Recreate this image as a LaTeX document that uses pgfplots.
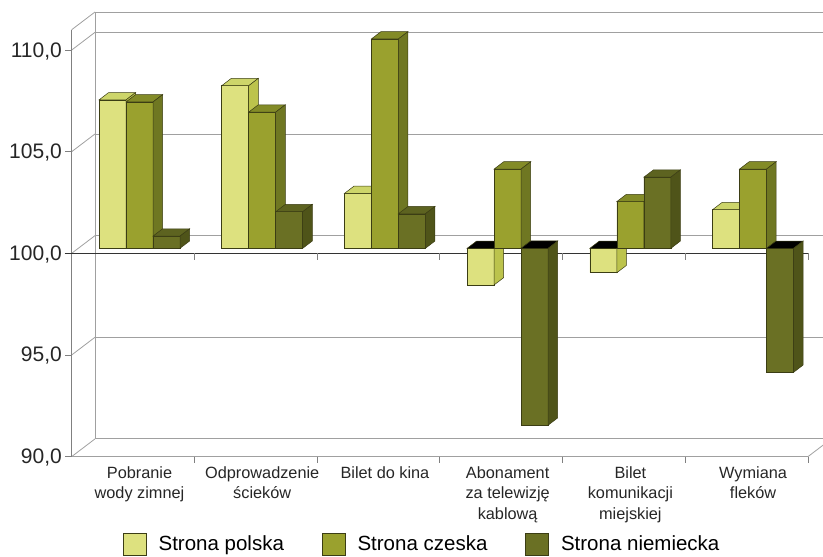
\documentclass[border=0pt]{standalone}
\usepackage{pgfplots}
\pgfplotsset{compat=1.18}
\usepackage{pgfplotstable}
\usepackage{fontspec}
\setmainfont{Liberation Sans}

\definecolor{plFront}{HTML}{DDE17F}
\definecolor{plTop}{HTML}{CDD56A}
\definecolor{plSide}{HTML}{BCC34C}
\definecolor{czFront}{HTML}{9AA12E}
\definecolor{czTop}{HTML}{838B27}
\definecolor{czSide}{HTML}{6F7722}
\definecolor{deFront}{HTML}{6A7024}
\definecolor{deTop}{HTML}{5D6320}
\definecolor{deSide}{HTML}{4F5419}
\definecolor{edge}{HTML}{3B3D14}
\definecolor{wallgray}{HTML}{A0A0A0}
\definecolor{frontgray}{HTML}{808080}

\pgfplotstableread{
idx PL    CZ    DE
0   107.3 107.2 100.6
1   108.0 106.7 101.8
2   102.7 110.3 101.7
3   98.2  103.9 91.3
4   98.8  102.3 103.5
5   101.9 103.9 93.9
}\prices

% Front, top and side faces of a bar, drawn at the top centre of its front face.
% \barval is the bar's value; the base line is 100 and one unit is 20.33pt.
\newcommand\declareprism[4]{% name, front, top, side colour
  \pgfdeclareplotmark{#1}{%
    \pgfmathsetmacro\prH{(\barval-100)*20.33}%
    \pgfmathsetmacro\prT{max(0,-\prH)}%
    \pgfmathsetmacro\prB{min(0,-\prH)}%
    \pgfsetfillcolor{#2}%
    \pgfpathrectanglecorners{\pgfpoint{-13.5pt}{\prB pt}}{\pgfpoint{13.5pt}{\prT pt}}%
    \pgfusepath{fill,stroke}%
    \ifdim\prH pt<0pt \pgfsetfillcolor{black}\else\pgfsetfillcolor{#3}\fi
    \pgfpathmoveto{\pgfpoint{-13.5pt}{\prT pt}}%
    \pgfpathlineto{\pgfpoint{13.5pt}{\prT pt}}%
    \pgfpathlineto{\pgfpoint{23.05pt}{\prT pt+7.3pt}}%
    \pgfpathlineto{\pgfpoint{-3.95pt}{\prT pt+7.3pt}}%
    \pgfpathclose
    \pgfusepath{fill,stroke}%
    \pgfsetfillcolor{#4}%
    \pgfpathmoveto{\pgfpoint{13.5pt}{\prB pt}}%
    \pgfpathlineto{\pgfpoint{13.5pt}{\prT pt}}%
    \pgfpathlineto{\pgfpoint{23.05pt}{\prT pt+7.3pt}}%
    \pgfpathlineto{\pgfpoint{23.05pt}{\prB pt+7.3pt}}%
    \pgfpathclose
    \pgfusepath{fill,stroke}%
  }%
}
\declareprism{prismPL}{plFront}{plTop}{plSide}
\declareprism{prismCZ}{czFront}{czTop}{czSide}
\declareprism{prismDE}{deFront}{deTop}{deSide}

\pgfplotsset{
  prism/.style n args={3}{% front colour, mark, shift within the group
    fill=#1, draw=edge, line width=0.5pt,
    bar width=27pt, bar shift=#3,
    scatter, mark=#2,
    scatter/@pre marker code/.code={\pgfscope\pgftransformxshift{#3}},
    scatter/@post marker code/.code={\endpgfscope},
    visualization depends on={rawy \as \barval},
    forget plot,
  },
}
\tikzset{
  wallline/.style={draw=wallgray, line width=0.8pt},
  frontline/.style={draw=frontgray, line width=0.8pt},
}

\begin{document}
\begin{tikzpicture}
\useasboundingbox (0,0) rectangle (823pt,557pt);
\begin{axis}[
  at={(78.15pt,105.4pt)}, anchor=south west,
  scale only axis, width=736.3pt, height=426.9pt,
  xmin=-0.5, xmax=5.5, ymin=-10, ymax=11,
  clip=false,
  ybar=0pt, bar width=27pt,
  y filter/.expression={y-100},
  axis line style={draw=none},
  major tick length=0pt, tick style={draw=none},
  xtick={0,...,5},
  xticklabels={{Pobranie\\wody zimnej},{Odprowadzenie\\ścieków},{Bilet do kina},
    {Abonament\\za telewizję\\kablową},{Bilet\\komunikacji\\miejskiej},{Wymiana\\fleków}},
  xticklabel style={font=\fontsize{16.3}{20.5}\selectfont, align=center,
    anchor=north, inner sep=0pt, yshift=-14.4pt, text=black!85},
  ytick={-10,-5,0,5,10},
  yticklabel={\pgfmathparse{\tick+100}\pgfmathprintnumber[fixed,fixed zerofill,
    precision=1,use comma,assume math mode=true]{\pgfmathresult}},
  yticklabel style={font=\fontsize{21}{25}\selectfont, anchor=east,
    inner sep=0pt, xshift=-16.15pt, yshift=-6pt, text=black!85},
  legend columns=3,
  legend image code/.code={\draw[#1, draw=edge, line width=0.6pt]
    (0pt,-11pt) rectangle (23pt,11pt);},
  legend style={at={(0.0609,-0.2164)}, anchor=west, draw=none, fill=none,
    inner sep=0pt, outer sep=0pt, font=\fontsize{20.5}{24}\selectfont,
    /tikz/every odd column/.append style={column sep=10pt},
    /tikz/every even column/.append style={column sep=36pt}},
]
% back wall, left wall and floor
\pgfplotsinvokeforeach{-10,-5,0,5,10,11}{%
  \draw[wallline] (axis cs:-0.5,#1) ++(16.85pt,12.7pt) -- ++(760pt,0pt);
  \draw[wallline] (axis cs:-0.5,#1) ++(-6.45pt,-5pt) -- ++(23.3pt,17.7pt);
}
\draw[wallline] (axis cs:-0.5,-10) ++(16.85pt,12.7pt) -- ++(0pt,426.9pt);
\draw[wallline] (axis cs:-0.5,-10) ++(-6.45pt,-5pt) -- ++(736.3pt,0pt) -- ++(23.3pt,17.7pt);
% front value axis
\draw[frontline] (axis cs:-0.5,-10) ++(-6.45pt,-5pt) -- ++(0pt,426.9pt);
\pgfplotsinvokeforeach{-10,-5,0,5,10}{%
  \draw[frontline] (axis cs:-0.5,#1) ++(-6.45pt,-5pt) -- ++(-7pt,0pt);
}
\pgfplotsinvokeforeach{0.5,1.5,2.5,3.5,4.5,5.5}{%
  \draw[frontline] (axis cs:#1,-10) ++(-6.45pt,-5pt) -- ++(0pt,-6pt);
}

\addplot[prism={plFront}{prismPL}{-27pt}] table[x=idx, y=PL] {\prices};
\addplot[prism={czFront}{prismCZ}{0pt}] table[x=idx, y=CZ] {\prices};
\addplot[prism={deFront}{prismDE}{27pt}] table[x=idx, y=DE] {\prices};

% base line at 100 in front of the bars
\draw[draw=black!80, line width=1.4pt] (axis cs:-0.5,0) ++(-13.45pt,-5pt) -- ++(743.3pt,0pt);
\pgfplotsinvokeforeach{0.5,1.5,2.5,3.5,4.5,5.5}{%
  \draw[frontline] (axis cs:#1,0) ++(-6.45pt,-5pt) -- ++(0pt,-7pt);
}

\addlegendimage{fill=plFront}\addlegendentry{Strona polska}
\addlegendimage{fill=czFront}\addlegendentry{Strona czeska}
\addlegendimage{fill=deFront}\addlegendentry{Strona niemiecka}
\end{axis}
\end{tikzpicture}
\end{document}
